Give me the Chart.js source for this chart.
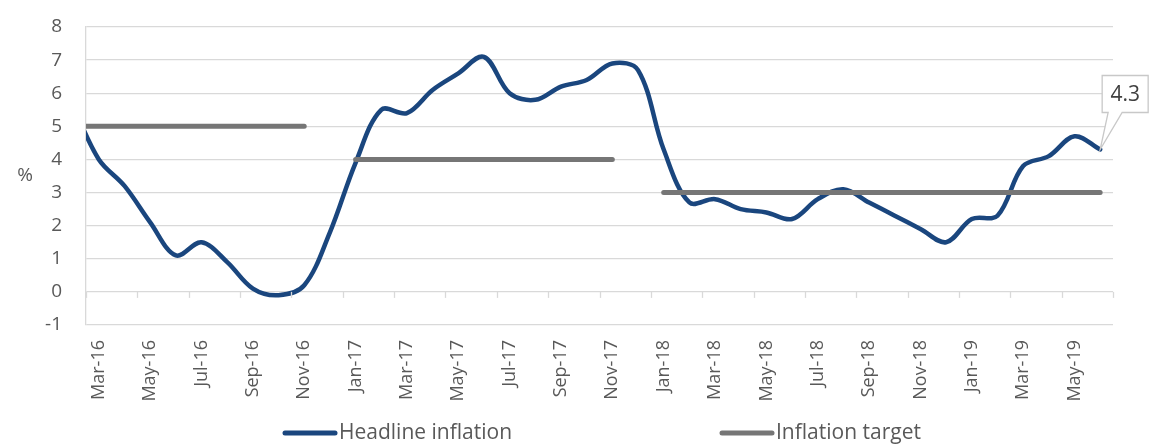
<!DOCTYPE html>
<html>
<head>
<meta charset="utf-8">
<script src="https://cdn.jsdelivr.net/npm/chart.js@4.4.1/dist/chart.umd.min.js"></script>
<style>
    html, body { margin: 0; padding: 0; background: #fff; }
    #wrap { width: 1159px; height: 444px; }
</style>
</head>
<body>
<div id="wrap"><canvas id="inflationChart"></canvas></div>
<script>
// monthly, Feb-16 .. Jun-19 (Feb-16 sits just left of the visible axis)
const months = [
    'Feb-16', 'Mar-16', 'Apr-16', 'May-16', 'Jun-16', 'Jul-16', 'Aug-16', 'Sep-16', 'Oct-16', 'Nov-16', 'Dec-16',
    'Jan-17', 'Feb-17', 'Mar-17', 'Apr-17', 'May-17', 'Jun-17', 'Jul-17', 'Aug-17', 'Sep-17', 'Oct-17', 'Nov-17', 'Dec-17',
    'Jan-18', 'Feb-18', 'Mar-18', 'Apr-18', 'May-18', 'Jun-18', 'Jul-18', 'Aug-18', 'Sep-18', 'Oct-18', 'Nov-18', 'Dec-18',
    'Jan-19', 'Feb-19', 'Mar-19', 'Apr-19', 'May-19', 'Jun-19'
];
const headline = [
    5.6, 4.0, 3.2, 2.1, 1.1, 1.5, 0.9, 0.1, -0.1, 0.2, 1.8,
    3.9, 5.5, 5.4, 6.1, 6.6, 7.1, 6.0, 5.8, 6.2, 6.4, 6.9, 6.7,
    4.3, 2.7, 2.8, 2.5, 2.4, 2.2, 2.8, 3.1, 2.7, 2.3, 1.9, 1.5,
    2.2, 2.3, 3.8, 4.1, 4.7, 4.3
];
const target = [
    5, 5, 5, 5, 5, 5, 5, 5, 5, 5, null,
    4, 4, 4, 4, 4, 4, 4, 4, 4, 4, 4, null,
    3, 3, 3, 3, 3, 3, 3, 3, 3, 3, 3, 3,
    3, 3, 3, 3, 3, 3
];
const yTicks = [-1, 0, 1, 2, 3, 4, 5, 6, 7, 8];

const BLUE = '#1a467e';
const GREY = '#767676';
const TEXT = '#595959';
const GRID = '#d9d9d9';
const FONT = "'Open Sans', sans-serif";

const toPoints = arr => arr.map((v, i) => ({ x: i, y: v }));

// small tick marks hanging from the zero line, every two months
const zeroTicks = {
    id: 'zeroTicks',
    afterDraw(chart) {
        const { ctx, scales: { x, y } } = chart;
        const y0 = y.getPixelForValue(0);
        ctx.save();
        ctx.strokeStyle = GRID;
        ctx.lineWidth = 1.3;
        for (let v = 0.5; v <= months.length - 0.5; v += 2) {
            const px = Math.round(x.getPixelForValue(v)) + 0.5;
            ctx.beginPath();
            ctx.moveTo(px, y0);
            ctx.lineTo(px, y0 + 6);
            ctx.stroke();
        }
        ctx.restore();
    }
};

// "%" unit beside the y axis, label callout on the last point, legend
const extras = {
    id: 'extras',
    afterDraw(chart) {
        const { ctx, chartArea, scales: { y } } = chart;
        ctx.save();
        ctx.fillStyle = TEXT;
        ctx.font = `19px ${FONT}`;
        ctx.textAlign = 'center';
        ctx.textBaseline = 'middle';
        ctx.fillText('%', chartArea.left - 61, (y.top + y.bottom) / 2);

        // callout for the latest value
        const meta = chart.getDatasetMeta(0);
        const last = meta.data[meta.data.length - 1];
        const bx = last.x + 2, by = last.y - 74, bw = 46, bh = 37;
        ctx.fillStyle = '#fff';
        ctx.strokeStyle = '#c8c8c8';
        ctx.lineWidth = 1.3;
        ctx.beginPath();
        ctx.moveTo(bx + 6, by + bh);
        ctx.lineTo(bx, by + bh);
        ctx.lineTo(bx, by);
        ctx.lineTo(bx + bw, by);
        ctx.lineTo(bx + bw, by + bh);
        ctx.lineTo(bx + 20, by + bh);
        ctx.lineTo(last.x, last.y);
        ctx.closePath();
        ctx.fill();
        ctx.stroke();
        ctx.fillStyle = '#404040';
        ctx.font = `21px ${FONT}`;
        ctx.fillText(headline[headline.length - 1].toFixed(1), bx + bw / 2, by + bh / 2 + 1);

        // legend
        const legendX = [283, 720];
        const ly = 433;
        ctx.textAlign = 'left';
        ctx.font = `21px ${FONT}`;
        chart.data.datasets.forEach((ds, i) => {
            ctx.strokeStyle = ds.borderColor;
            ctx.lineWidth = 5;
            ctx.lineCap = 'round';
            ctx.beginPath();
            ctx.moveTo(legendX[i] + 2, ly);
            ctx.lineTo(legendX[i] + 52, ly);
            ctx.stroke();
            ctx.fillStyle = TEXT;
            ctx.fillText(ds.label, legendX[i] + 56, ly);
        });
        ctx.restore();
    }
};

const ctx = document.getElementById('inflationChart').getContext('2d');
new Chart(ctx, {
    type: 'line',
    data: {
        datasets: [{
            label: 'Headline inflation',
            data: toPoints(headline),
            borderColor: BLUE,
            backgroundColor: BLUE,
            borderWidth: 4.5,
            borderCapStyle: 'round',
            borderJoinStyle: 'round',
            tension: 0.35,
            pointRadius: 0,
            order: 1
        }, {
            label: 'Inflation target',
            data: toPoints(target),
            borderColor: GREY,
            backgroundColor: GREY,
            borderWidth: 5,
            borderCapStyle: 'round',
            tension: 0,
            pointRadius: 0,
            spanGaps: false,
            order: 0
        }]
    },
    options: {
        responsive: true,
        maintainAspectRatio: false,
        animation: false,
        layout: { padding: { top: 27, right: 46, left: 0, bottom: 0 } },
        plugins: {
            legend: { display: false },
            tooltip: { enabled: false }
        },
        scales: {
            x: {
                type: 'linear',
                min: 0.5,
                max: months.length - 0.5,
                afterBuildTicks: s => {
                    s.ticks = months.map((m, i) => ({ value: i })).filter(t => t.value % 2 === 1);
                },
                afterFit: s => { s.height = 119; },
                grid: { display: false, drawTicks: false },
                border: { display: false },
                ticks: {
                    autoSkip: false,
                    minRotation: 90,
                    maxRotation: 90,
                    padding: 15,
                    color: TEXT,
                    font: { family: FONT, size: 18 },
                    callback: v => months[v]
                }
            },
            y: {
                min: yTicks[0],
                max: yTicks[yTicks.length - 1],
                afterBuildTicks: s => { s.ticks = yTicks.map(v => ({ value: v })); },
                afterFit: s => { s.width = 86; },
                // invisible tick marks push the labels away from the axis
                grid: { color: GRID, lineWidth: 1.3, drawTicks: true, tickLength: 22, tickColor: 'rgba(0,0,0,0)' },
                border: { display: true, color: GRID, width: 1.3 },
                ticks: {
                    padding: 2,
                    color: TEXT,
                    font: { family: FONT, size: 19 }
                }
            }
        }
    },
    plugins: [zeroTicks, extras]
});
</script>
</body>
</html>
